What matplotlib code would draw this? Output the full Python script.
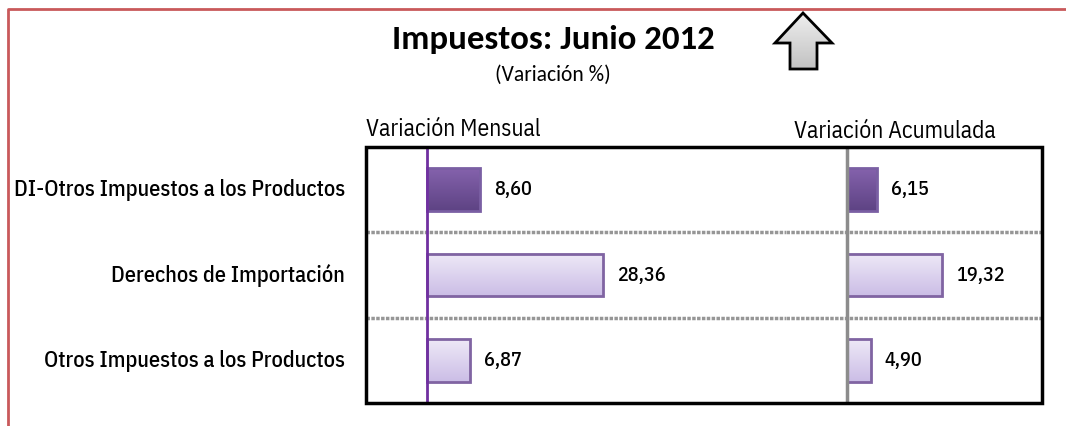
import matplotlib
matplotlib.use("Agg")
import matplotlib.pyplot as plt
import numpy as np
from matplotlib.colors import LinearSegmentedColormap
from matplotlib.lines import Line2D
from matplotlib.patches import Polygon, Rectangle

categorias = [
    "DI-Otros Impuestos a los Productos",
    "Derechos de Importación",
    "Otros Impuestos a los Productos",
]
var_mensual = [8.60, 28.36, 6.87]
var_acumulada = [6.15, 19.32, 4.90]

TITULO = "Impuestos: Junio 2012"
SUBTITULO = "(Variación %)"
PANELES = ["Variación Mensual", "Variación Acumulada"]

NARROW = ["IBM Plex Sans Condensed", "Liberation Sans", "DejaVu Sans"]
CALIBRI = ["Carlito", "Lato", "DejaVu Sans"]
W, H = 1066, 426

oscuro = LinearSegmentedColormap.from_list("oscuro", ["#8462ac", "#5e4384"])
claro = LinearSegmentedColormap.from_list("claro", ["#eee9f7", "#cbbde6"])
gris = LinearSegmentedColormap.from_list("gris", ["#f2f2f2", "#bdbdbd"])


def fx(px):
    return px / W


def fy(py):
    return 1 - py / H


def draw_panel(ax, valores, xlim, zero_color, zero_width):
    ax.axis("off")
    grad = np.linspace(0, 1, 64).reshape(-1, 1)
    h = 0.5
    for i, v in enumerate(valores):
        cmap = oscuro if i == 0 else claro
        edge = "#7a5fa3" if i == 0 else "#8064a2"
        ax.imshow(grad, extent=[0, v, i + h / 2, i - h / 2], aspect="auto",
                  cmap=cmap, origin="upper", zorder=2)
        ax.add_patch(Rectangle((0, i - h / 2), v, h, fill=False, edgecolor=edge,
                               linewidth=2, zorder=3))
        ax.annotate(f"{v:.2f}".replace(".", ","), (v, i), xytext=(10, 0),
                    textcoords="offset points", va="center", ha="left",
                    fontsize=14.5, family=NARROW, fontweight="medium")
    ax.set_xlim(*xlim)
    ax.set_ylim(2.5, -0.5)
    for yy in [0.5, 1.5]:
        ax.axhline(yy, color="#969696", linewidth=2.5, linestyle=(0, (1, 0.4)), zorder=1)
    ax.axvline(0, color=zero_color, linewidth=zero_width, zorder=4)


fig = plt.figure(figsize=(W / 100, H / 100), dpi=100)

# paneles
ax1 = fig.add_axes([fx(366), fy(403), fx(786 - 366), fy(147) - fy(403)])
ax2 = fig.add_axes([fx(786), fy(403), fx(1042 - 786), fy(147) - fy(403)])
draw_panel(ax1, var_mensual, (-9.8, 57.7), "#7030a0", 2)
draw_panel(ax2, var_acumulada, (-12.3, 39.5), "#8c8c8c", 2.5)

# marco del grafico
fig.add_artist(Rectangle((fx(366), fy(403)), fx(1042 - 366), fy(147) - fy(403),
                         transform=fig.transFigure, fill=False, edgecolor="black",
                         linewidth=2.5, zorder=10))

# borde rojo
fig.add_artist(Line2D([fx(8), fx(8), 1], [0, fy(9), fy(9)], color="#c9595b",
                      linewidth=2, transform=fig.transFigure))

# etiquetas de categoria
for i, cat in enumerate(categorias):
    fig.text(fx(345), fy(190 + 85.3 * i), cat, ha="right", va="center",
             fontsize=16, family=NARROW, fontweight="medium")

fig.text(fx(553), fy(40), TITULO, ha="center", va="center", fontsize=25,
         family=CALIBRI, fontweight="bold")
fig.text(fx(553), fy(75), SUBTITULO, ha="center", va="center", fontsize=15.5,
         family=CALIBRI)
fig.text(fx(366), fy(130), PANELES[0], ha="left", va="center", fontsize=17,
         family=NARROW)
fig.text(fx(895), fy(131), PANELES[1], ha="center", va="center", fontsize=17,
         family=NARROW)

# flecha con degradado gris
axf = fig.add_axes([fx(770), fy(75), fx(68), fy(8) - fy(75)])
axf.set_xlim(770, 838)
axf.set_ylim(75, 8)
axf.axis("off")
flecha = [(803, 13), (832, 43), (817, 43), (817, 69), (790, 69), (790, 43), (775, 43)]
poly = Polygon(flecha, closed=True, facecolor="none", edgecolor="black",
               linewidth=2, zorder=3)
axf.add_patch(poly)
img = axf.imshow(np.linspace(0, 1, 64).reshape(-1, 1), extent=[770, 838, 75, 8],
                 aspect="auto", cmap=gris, origin="upper", zorder=2)
img.set_clip_path(poly)

fig.savefig("out.png", dpi=100)
